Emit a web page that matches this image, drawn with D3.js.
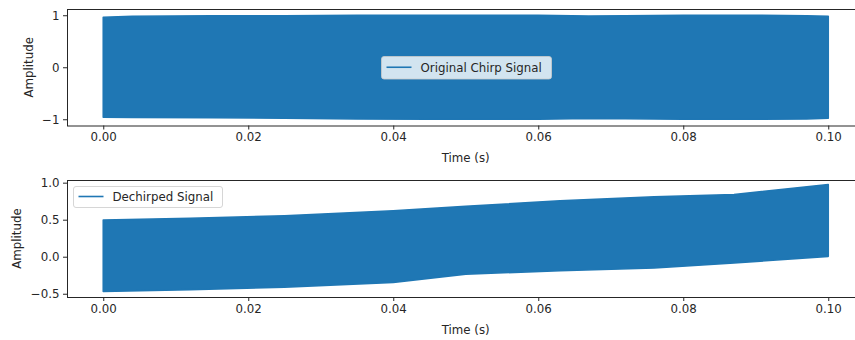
<!DOCTYPE html>
<html>
<head>
<meta charset="utf-8">
<script src="https://cdn.jsdelivr.net/npm/d3@7"></script>
<style>
  html, body { margin: 0; padding: 0; background: #fff; }
  svg text { font-family: "DejaVu Sans", sans-serif; fill: #262626; }
</style>
</head>
<body>
<svg id="chart" width="855" height="340"></svg>
<script>
// ---- data (envelopes) ----
const chirpTime  = [0, 0.004, 0.015, 0.025, 0.035, 0.045, 0.060, 0.067, 0.072, 0.080, 0.090, 0.097, 0.100];
const chirpUpper = [0.96, 0.98, 0.99, 0.99, 1.0, 1.0, 1.0, 0.985, 0.99, 1.0, 1.0, 0.99, 0.98];
const chirpLower = [-0.96, -0.965, -0.97, -0.98, -0.995, -1.0, -1.0, -0.985, -0.99, -1.0, -1.0, -0.995, -0.98];

const dechirpTime  = [0, 0.012, 0.025, 0.040, 0.050, 0.063, 0.076, 0.087, 0.100];
const dechirpUpper = [0.495, 0.52, 0.553, 0.62, 0.68, 0.755, 0.81, 0.84, 0.975];
const dechirpLower = [-0.47, -0.445, -0.41, -0.347, -0.235, -0.19, -0.152, -0.085, 0.005];

const xTicks = [0, 0.02, 0.04, 0.06, 0.08, 0.10];
const topYTicks = [-1, 0, 1];
const botYTicks = [-0.5, 0.0, 0.5, 1.0];

const seriesNames = ["Original Chirp Signal", "Dechirped Signal"];
const xLabel = "Time (s)";
const yLabel = "Amplitude";

// ---- layout ----
const svg = d3.select("#chart");
const color = "#1f77b4";
const fs = 11.8;
const left = 67, right = 864.5;

function fmtMinus(s) { return s.replace("-", "\u2212"); }

function panel(opts) {
  const x = d3.scaleLinear().domain([-0.005, 0.105]).range([left, right]);
  const y = d3.scaleLinear().domain(opts.yDomain).range([opts.bottom, opts.top]);
  const g = svg.append("g");
  const clipId = "clip" + opts.id;
  svg.append("clipPath").attr("id", clipId).append("rect")
    .attr("x", left).attr("y", opts.top).attr("width", right - left).attr("height", opts.bottom - opts.top);

  const pts = opts.t.map((t, i) => ({ t, u: opts.u[i], l: opts.l[i] }));
  const area = d3.area().x(d => x(d.t)).y0(d => y(d.l)).y1(d => y(d.u));
  g.append("path").datum(pts).attr("d", area)
    .attr("clip-path", `url(#${clipId})`)
    .attr("fill", color).attr("stroke", color).attr("stroke-width", 1.6).attr("stroke-linejoin", "round");

  // axes
  const xAxis = d3.axisBottom(x).tickValues(xTicks).tickFormat(d3.format(".2f")).tickSize(4).tickPadding(3.5);
  const gx = g.append("g").attr("transform", `translate(0,${opts.bottom})`).call(xAxis);
  const yAxis = d3.axisLeft(y).tickValues(opts.yTicks).tickFormat(d => fmtMinus(opts.yFmt(d))).tickSize(4).tickPadding(3.5);
  const gy = g.append("g").attr("transform", `translate(${left},0)`).call(yAxis);
  [gx, gy].forEach(a => {
    a.select(".domain").remove();
    a.selectAll(".tick line").attr("stroke", "#262626").attr("stroke-width", 1);
    a.selectAll(".tick text").style("font-size", fs + "px").attr("fill", "#262626");
  });

  // spines
  g.append("rect").attr("x", left + 0.5).attr("y", opts.top + 0.5)
    .attr("width", right - left).attr("height", opts.bottom - opts.top)
    .attr("fill", "none").attr("stroke", "#262626").attr("stroke-width", 1);

  // labels
  g.append("text").attr("x", (left + right) / 2).attr("y", opts.bottom + 36.5)
    .attr("text-anchor", "middle").style("font-size", fs + "px").text(xLabel);
  g.append("text").attr("transform", `translate(${opts.yLabelX},${(opts.top + opts.bottom) / 2}) rotate(-90)`)
    .attr("text-anchor", "middle").attr("dominant-baseline", "central").style("font-size", fs + "px").text(yLabel);

  // legend
  const L = opts.legend;
  const lg = g.append("g");
  lg.append("rect").attr("x", L.x).attr("y", L.y).attr("width", L.w).attr("height", L.h)
    .attr("rx", 2.5).attr("fill", "#fff").attr("fill-opacity", 0.8)
    .attr("stroke", "#cccccc").attr("stroke-opacity", 0.8).attr("stroke-width", 1);
  lg.append("line").attr("x1", L.x + 5).attr("x2", L.x + 30)
    .attr("y1", L.y + L.h / 2 - 0.5).attr("y2", L.y + L.h / 2 - 0.5)
    .attr("stroke", color).attr("stroke-width", 1.6);
  lg.append("text").attr("x", L.x + 39).attr("y", L.y + L.h / 2)
    .attr("dominant-baseline", "central").style("font-size", fs + "px").text(opts.name);
}

panel({
  id: 1, top: 9, bottom: 125.5, yDomain: [-1.12, 1.12],
  t: chirpTime, u: chirpUpper, l: chirpLower,
  yTicks: topYTicks, yFmt: d3.format("d"), yLabelX: 29,
  name: seriesNames[0],
  legend: { x: 381.5, y: 56.5, w: 170, h: 22.5 }
});

panel({
  id: 2, top: 180, bottom: 297, yDomain: [-0.544, 1.036],
  t: dechirpTime, u: dechirpUpper, l: dechirpLower,
  yTicks: botYTicks, yFmt: d3.format(".1f"), yLabelX: 17,
  name: seriesNames[1],
  legend: { x: 73.5, y: 186.5, w: 149, h: 21 }
});
</script>
</body>
</html>
